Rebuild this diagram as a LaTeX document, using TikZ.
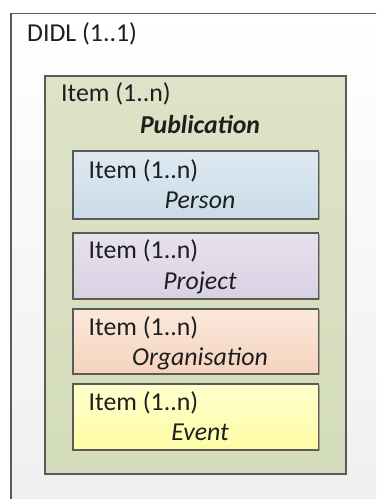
\documentclass[tikz,border=0pt]{standalone}
\usepackage{fontspec}
\setmainfont{Carlito}
\usetikzlibrary{shadows}
\definecolor{bordc}{HTML}{5A5A5A}
\definecolor{txtc}{HTML}{1E1E1E}
\definecolor{outb}{HTML}{EFEFEF}
\definecolor{gtop}{HTML}{DEE3C8}
\definecolor{gbot}{HTML}{D3DCBA}
\definecolor{btop}{HTML}{DEE9F2}
\definecolor{bbot}{HTML}{C9DCE8}
\definecolor{ptop}{HTML}{E7E2EE}
\definecolor{pbot}{HTML}{D9D1E3}
\definecolor{otop}{HTML}{FBE9DC}
\definecolor{obot}{HTML}{F5D3BE}
\definecolor{ytop}{HTML}{FFFFCC}
\definecolor{ybot}{HTML}{FFFCA6}
\tikzset{
  x=1pt, y=-1pt,
  boxst/.style={draw=bordc, line width=1.5pt, inner sep=0pt, anchor=north west,
    drop shadow={shadow xshift=1.5pt, shadow yshift=-1.5pt, opacity=0.25, fill=black}},
  lbl/.style={text=txtc, inner sep=0pt, font=\fontsize{25.8}{30}\selectfont},
}
\begin{document}
\begin{tikzpicture}
\useasboundingbox (0,0) rectangle (376,499);
\clip (0,0) rectangle (376,499);
% outer DIDL
\node[draw=bordc, line width=1.5pt, inner sep=0pt, anchor=north west,
      top color=white, bottom color=outb, minimum width=380pt, minimum height=500pt] (didl) at (10,12.5) {};
\node[lbl, anchor=base west] (didlt) at (27,41) {DIDL (1..1)};
% green item
\node[boxst, top color=gtop, bottom color=gbot, minimum width=301pt, minimum height=398pt] (pub) at (44,75) {};
\node[lbl, anchor=base west] (pubi) at (61,101.7) {Item (1..n)};
\node[lbl, anchor=base] (pubt) at (200,133.3) {\bfseries\itshape Publication};
% blue
\node[boxst, top color=btop, bottom color=bbot, minimum width=245.5pt, minimum height=68pt] (per) at (72,150) {};
\node[lbl, anchor=base west] (peri) at (88.5,178.3) {Item (1..n)};
\node[lbl, anchor=base] (pert) at (200,208.3) {\itshape Person};
% purple
\node[boxst, top color=ptop, bottom color=pbot, minimum width=245.5pt, minimum height=66pt] (pro) at (72,232) {};
\node[lbl, anchor=base west] (proi) at (88.5,258.8) {Item (1..n)};
\node[lbl, anchor=base] (prot) at (200,289) {\itshape Project};
% orange
\node[boxst, top color=otop, bottom color=obot, minimum width=245.5pt, minimum height=65pt] (org) at (72,308) {};
\node[lbl, anchor=base west] (orgi) at (88.5,335) {Item (1..n)};
\node[lbl, anchor=base] (orgt) at (200,365) {\itshape Organisation};
% yellow
\node[boxst, top color=ytop, bottom color=ybot, minimum width=245.5pt, minimum height=66pt] (evt) at (72,383) {};
\node[lbl, anchor=base west] (evti) at (88.5,410) {Item (1..n)};
\node[lbl, anchor=base] (evtt) at (200,440.7) {\itshape Event};
\end{tikzpicture}
\end{document}
